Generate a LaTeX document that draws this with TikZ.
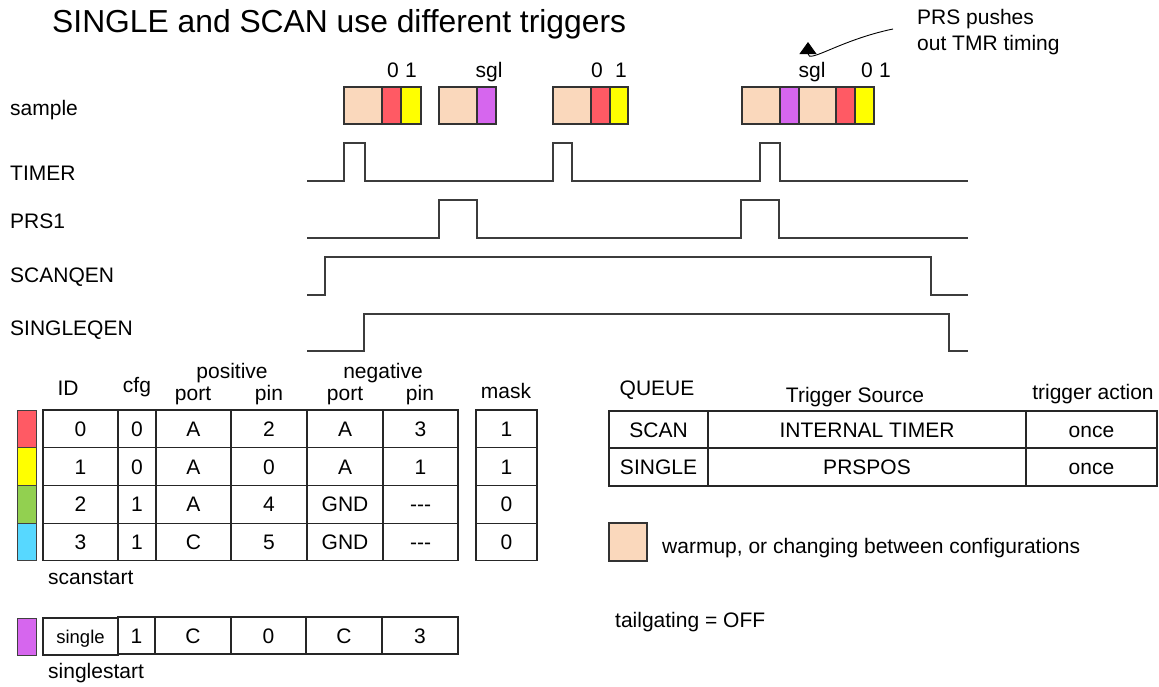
\documentclass[tikz,border=0pt]{standalone}
\usepackage{fontspec}
\setmainfont{Liberation Sans}
\usetikzlibrary{arrows.meta}
\definecolor{warm}{RGB}{250,216,188}
\definecolor{cfgred}{RGB}{255,90,100}
\definecolor{cfgyel}{RGB}{255,255,0}
\definecolor{cfggrn}{RGB}{146,208,80}
\definecolor{cfgcyan}{RGB}{87,216,255}
\definecolor{cfgsgl}{RGB}{214,102,238}
\definecolor{wire}{RGB}{60,60,60}
\newcommand\dashes{\mbox{-}\mbox{-}\mbox{-}}
\tikzset{
  txt/.style={inner sep=0pt, font=\fontsize{21}{26}\selectfont},
  small/.style={inner sep=0pt, font=\fontsize{18.5}{22}\selectfont},
  wave/.style={draw=wire, line width=1.2pt},
  tbl/.style={draw=black!85, line width=1.2pt},
  slot/.style={draw=black!80, line width=1.3pt}
}
\begin{document}
\begin{tikzpicture}[x=1pt,y=-1pt]
  \useasboundingbox (0,0) rectangle (1159,686);
  \node[inner sep=0pt,anchor=base west,font=\fontsize{31.8}{36}\selectfont] (title) at (52,32) {SINGLE and SCAN use different triggers};

  % signal names
  \node[txt,anchor=base west] (lsample) at (10,115) {sample};
  \node[txt,anchor=base west] (ltimer) at (10,180) {TIMER};
  \node[txt,anchor=base west] (lprs) at (10,228) {PRS1};
  \node[txt,anchor=base west] (lscan) at (10,282) {SCANQEN};
  \node[txt,anchor=base west] (lsingle) at (10,335) {SINGLEQEN};

  % sample slots
  \foreach \a/\b/\c in {344/382/warm, 382/401/cfgred, 401/421/cfgyel,
                        439/477/warm, 477/496/cfgsgl,
                        553/591/warm, 591/610/cfgred, 610/628/cfgyel,
                        742/780/warm, 780/799/cfgsgl, 799/836/warm, 836/855/cfgred, 855/874/cfgyel}
    \filldraw[slot,fill=\c] (\a,87) rectangle (\b,124);
  \foreach \x/\t [count=\i] in {393/0, 411/1, 489/sgl, 597/0, 621/1, 812/sgl, 867/0, 885/1}
    \node[txt,anchor=base] (tag\i) at (\x,77) {\t};

  \node[txt,anchor=north west,align=left] (note) at (917,9) {PRS pushes\\out TMR timing};
  \draw[line width=0.9pt,-{Triangle[width=17pt,length=12pt]}] ([xshift=-24pt,yshift=3pt]note.west) .. controls (840,40) and (808,64) .. (808,42);

  % waveforms
  \draw[wave] (307,181) -| (344,143) -| (365,181) -| (553,143) -| (572,181) -| (760,143) -| (780,181) -- (968,181);
  \draw[wave] (307,238) -| (439,200) -| (477,238) -| (741,200) -| (779,238) -- (968,238);
  \draw[wave] (307,295) -| (325,257) -| (931,295) -- (968,295);
  \draw[wave] (307,351) -| (364,314) -| (949,351) -- (968,351);

  % scan table
  \node[txt,anchor=base] (hid) at (68,395) {ID};
  \node[txt,anchor=base] (hcfg) at (137,392) {cfg};
  \node[txt,anchor=base] (hpos) at (232,378) {positive};
  \node[txt,anchor=base] (hpport) at (193,400) {port};
  \node[txt,anchor=base] (hppin) at (269,400) {pin};
  \node[txt,anchor=base] (hneg) at (383,378) {negative};
  \node[txt,anchor=base] (hnport) at (345,400) {port};
  \node[txt,anchor=base] (hnpin) at (420,400) {pin};
  \node[txt,anchor=base] (hmask) at (506,398) {mask};
  \foreach \id/\cfg/\pp/\pn/\np/\nn/\msk/\col [count=\r from 0] in
      {0/0/A/2/A/3/1/cfgred, 1/0/A/0/A/1/1/cfgyel, 2/1/A/4/GND/\dashes/0/cfggrn, 3/1/C/5/GND/\dashes/0/cfgcyan}{
    \pgfmathsetmacro\rowtop{410+37.7*\r}
    \filldraw[draw=black!75,line width=1pt,fill=\col] (17,\rowtop) rectangle (36,\rowtop+37.7);
    \draw[tbl] (43,\rowtop) rectangle (458,\rowtop+37.7);
    \foreach \xx in {118,156,231,307,383}
      \draw[tbl] (\xx,\rowtop) -- (\xx,\rowtop+37.7);
    \draw[tbl] (476,\rowtop) rectangle (537,\rowtop+37.7);
    \node[txt,anchor=base] (id\r) at (80.5,\rowtop+26.5) {\id};
    \node[txt,anchor=base] (cfg\r) at (137,\rowtop+26.5) {\cfg};
    \node[txt,anchor=base] (pport\r) at (193.5,\rowtop+26.5) {\pp};
    \node[txt,anchor=base] (ppin\r) at (269,\rowtop+26.5) {\pn};
    \node[txt,anchor=base] (nport\r) at (345,\rowtop+26.5) {\np};
    \node[txt,anchor=base] (npin\r) at (420.5,\rowtop+26.5) {\nn};
    \node[txt,anchor=base] (mask\r) at (506.5,\rowtop+26.5) {\msk};
  }
  \node[txt,anchor=base west] (scanstart) at (48,584) {scanstart};

  % single row
  \filldraw[draw=black!75,line width=1pt,fill=cfgsgl] (17,618) rectangle (36,655);
  \draw[tbl] (43,618) rectangle (118,655);
  \draw[tbl] (118,617) rectangle (458,654);
  \foreach \xx in {155,231,306,382}
    \draw[tbl] (\xx,617) -- (\xx,654);
  \node[small,anchor=base] (sgl0) at (80.5,643) {single};
  \foreach \x/\t [count=\i] in {136.5/1, 193/C, 268.5/0, 344/C, 420/3}
    \node[txt,anchor=base] (sgl\i) at (\x,643) {\t};
  \node[txt,anchor=base west] (singlestart) at (48,678) {singlestart};

  % queue table
  \node[txt,anchor=base] (hqueue) at (657,395) {QUEUE};
  \node[txt,anchor=base] (hsrc) at (855,402) {Trigger Source};
  \node[txt,anchor=base] (hact) at (1093,399) {trigger action};
  \draw[tbl] (609,411) rectangle (1157,486);
  \draw[tbl] (609,448) -- (1157,448);
  \draw[tbl] (708,411) -- (708,486);
  \draw[tbl] (1026,411) -- (1026,486);
  \foreach \q/\s/\y [count=\i] in {SCAN/INTERNAL TIMER/437, SINGLE/PRSPOS/474}{
    \node[txt,anchor=base] (queue\i) at (658.5,\y) {\q};
    \node[txt,anchor=base] (src\i) at (867,\y) {\s};
    \node[txt,anchor=base] (act\i) at (1091.5,\y) {once};
  }

  % legend
  \filldraw[slot,fill=warm] (609,523) rectangle (647,561);
  \node[txt,anchor=base west] (legend) at (662,553) {warmup, or changing between configurations};
  \node[txt,anchor=base west] (tail) at (615,627) {tailgating = OFF};
\end{tikzpicture}
\end{document}
